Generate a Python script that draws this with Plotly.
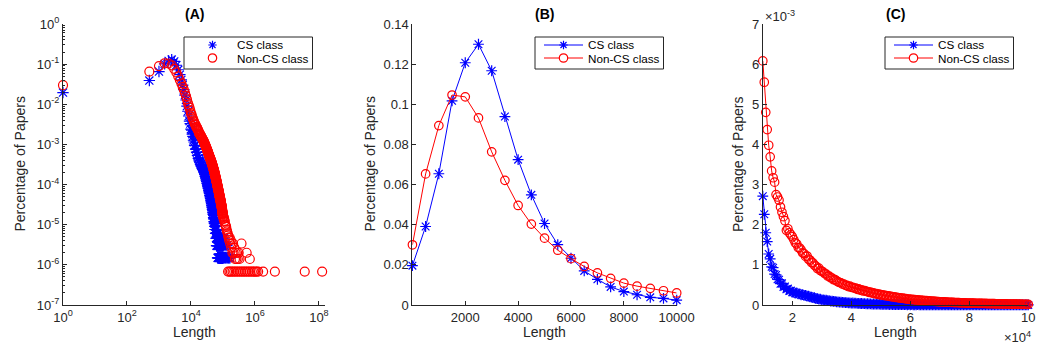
import plotly.graph_objects as go

W, H = 1042, 349

# ---- paper length bins (short range, panel B) ----
len_short = [1, 500, 1000, 1500, 2000, 2500, 3000, 3500, 4000, 4500, 5000,
             5500, 6000, 6500, 7000, 7500, 8000, 8500, 9000, 9500, 10000]
cs_short = [0.0196, 0.0391, 0.0654, 0.1017, 0.1207, 0.1299, 0.1167, 0.0939,
            0.0724, 0.0549, 0.0406, 0.0301, 0.0233, 0.0170, 0.0128, 0.0090,
            0.0067, 0.0051, 0.0038, 0.0033, 0.0024]
noncs_short = [0.0300, 0.0653, 0.0894, 0.1046, 0.1037, 0.0932, 0.0763, 0.0621,
               0.0496, 0.0403, 0.0333, 0.0273, 0.0231, 0.0192, 0.0160, 0.0133,
               0.0109, 0.0094, 0.0083, 0.0071, 0.0060]

# ---- mid range (panel C): 10k-100k, bins of 500 ----
len_mid = list(range(10000, 100001, 500))
cs_mid = [
    # 10000 - 20000
    2.71e-3, 2.26e-3, 1.80e-3, 1.58e-3, 1.27e-3, 1.15e-3, 0.95e-3, 0.93e-3, 0.77e-3, 0.75e-3,
    0.64e-3, 0.63e-3, 0.53e-3, 0.54e-3, 0.45e-3, 0.46e-3, 0.39e-3, 0.41e-3, 0.35e-3, 0.36e-3, 0.32e-3,
    # 20500 - 100000
    3.15e-4, 2.95e-4, 3.0e-4, 2.75e-4, 2.78e-4, 2.55e-4, 2.6e-4, 2.38e-4, 2.4e-4, 2.2e-4,
    2.22e-4, 2.0e-4, 1.98e-4, 1.82e-4, 1.8e-4, 1.62e-4, 1.6e-4, 1.46e-4, 1.44e-4, 1.3e-4,
    1.3e-4, 1.2e-4, 1.18e-4, 1.08e-4, 1.07e-4, 9.8e-5, 9.7e-5, 8.9e-5, 8.8e-5, 8.0e-5,
    8.0e-5, 7.3e-5, 7.3e-5, 6.6e-5, 6.6e-5, 6.0e-5, 6.0e-5, 5.4e-5, 5.5e-5, 4.9e-5,
    5.0e-5, 4.5e-5, 4.5e-5, 4.1e-5, 4.1e-5, 3.7e-5, 3.7e-5, 3.3e-5, 3.4e-5, 3.0e-5,
    3.1e-5, 2.7e-5, 2.8e-5, 2.4e-5, 2.5e-5, 2.2e-5, 2.3e-5, 2.0e-5, 2.0e-5, 1.8e-5,
    1.8e-5, 1.5e-5, 1.7e-5, 1.4e-5, 1.5e-5, 1.2e-5, 1.4e-5, 1.1e-5, 1.2e-5, 1.06e-5,
    1.2e-5, 9.1e-6, 1.06e-5, 7.6e-6, 9.1e-6, 7.6e-6, 9.1e-6, 6.1e-6, 7.6e-6, 6.1e-6,
    7.6e-6, 4.6e-6, 6.1e-6, 4.6e-6, 7.6e-6, 3.0e-6, 6.1e-6, 4.6e-6, 3.0e-6, 6.1e-6,
    4.6e-6, 3.0e-6, 4.6e-6, 3.0e-6, 6.1e-6, 1.5e-6, 4.6e-6, 3.0e-6, 4.6e-6, 1.5e-6,
    3.0e-6, 4.6e-6, 1.5e-6, 3.0e-6, 4.6e-6, 1.5e-6, 3.0e-6, 6.1e-6, 1.5e-6, 3.0e-6,
    1.5e-6, 3.0e-6, 4.6e-6, 1.5e-6, 3.0e-6, 1.5e-6, 4.6e-6, 1.5e-6, 3.0e-6, 1.5e-6,
    3.0e-6, 1.5e-6, 3.0e-6, 1.5e-6, 4.6e-6, 1.5e-6, 1.5e-6, 3.0e-6, 1.5e-6, 3.0e-6,
    1.5e-6, 1.5e-6, 3.0e-6, 1.5e-6, 1.5e-6, 4.6e-6, 1.5e-6, 3.0e-6, 1.5e-6, 1.5e-6,
    3.0e-6, 1.5e-6, 1.5e-6, 3.0e-6, 1.5e-6, 1.5e-6, 4.6e-6, 1.5e-6, 1.5e-6, 3.0e-6,
    1.5e-6, 1.5e-6, 3.0e-6, 1.5e-6, 1.5e-6, 3.0e-6, 1.5e-6, 1.5e-6, 1.5e-6, 3.0e-6,
]
noncs_mid = [
    # 10000 - 20000
    6.08e-3, 5.55e-3, 4.80e-3, 4.37e-3, 3.98e-3, 3.69e-3, 3.34e-3, 3.17e-3, 3.06e-3, 2.75e-3,
    2.69e-3, 2.61e-3, 2.44e-3, 2.31e-3, 2.20e-3, 2.10e-3, 1.86e-3, 1.90e-3, 1.80e-3, 1.75e-3, 1.70e-3,
    # 20500 - 100000
    1.63e-3, 1.55e-3, 1.52e-3, 1.43e-3, 1.42e-3, 1.37e-3, 1.30e-3, 1.28e-3, 1.21e-3, 1.22e-3,
    1.14e-3, 1.12e-3, 1.06e-3, 1.05e-3, 0.99e-3, 0.97e-3, 0.91e-3, 0.92e-3, 0.86e-3, 0.84e-3,
    0.82e-3, 0.78e-3, 0.77e-3, 0.72e-3, 0.72e-3, 0.68e-3, 0.67e-3, 0.63e-3, 0.63e-3, 0.60e-3,
    0.58e-3, 0.56e-3, 0.55e-3, 0.52e-3, 0.52e-3, 0.49e-3, 0.49e-3, 0.46e-3, 0.47e-3, 0.44e-3,
    0.44e-3, 0.42e-3, 0.42e-3, 0.39e-3, 0.40e-3, 0.37e-3, 0.38e-3, 0.35e-3, 0.36e-3, 0.34e-3,
    0.335e-3, 0.315e-3, 0.32e-3, 0.30e-3, 0.30e-3, 0.28e-3, 0.285e-3, 0.265e-3, 0.27e-3, 0.25e-3,
    0.255e-3, 0.24e-3, 0.24e-3, 0.225e-3, 0.23e-3, 0.215e-3, 0.215e-3, 0.20e-3, 0.205e-3, 0.19e-3,
    0.19e-3, 0.178e-3, 0.18e-3, 0.168e-3, 0.17e-3, 0.158e-3, 0.16e-3, 0.148e-3, 0.15e-3, 0.14e-3,
    0.142e-3, 0.132e-3, 0.135e-3, 0.125e-3, 0.127e-3, 0.118e-3, 0.12e-3, 0.112e-3, 0.113e-3, 0.105e-3,
    0.107e-3, 0.099e-3, 0.101e-3, 0.094e-3, 0.095e-3, 0.089e-3, 0.09e-3, 0.084e-3, 0.085e-3, 0.08e-3,
    0.081e-3, 0.076e-3, 0.077e-3, 0.072e-3, 0.073e-3, 0.068e-3, 0.069e-3, 0.064e-3, 0.066e-3, 0.061e-3,
    0.062e-3, 0.058e-3, 0.059e-3, 0.055e-3, 0.056e-3, 0.052e-3, 0.053e-3, 0.049e-3, 0.05e-3, 0.047e-3,
    0.048e-3, 0.045e-3, 0.046e-3, 0.043e-3, 0.044e-3, 0.041e-3, 0.042e-3, 0.039e-3, 0.04e-3, 0.037e-3,
    0.038e-3, 0.035e-3, 0.036e-3, 0.034e-3, 0.034e-3, 0.032e-3, 0.033e-3, 0.03e-3, 0.031e-3, 0.029e-3,
    0.03e-3, 0.028e-3, 0.028e-3, 0.026e-3, 0.027e-3, 0.025e-3, 0.025e-3, 0.023e-3, 0.024e-3, 0.022e-3,
    0.022e-3, 0.021e-3, 0.021e-3, 0.019e-3, 0.02e-3, 0.018e-3, 0.019e-3, 0.017e-3, 0.018e-3, 0.016e-3,
]

# ---- long tail beyond 100k (panel A only) ----
len_tail_cs = [102000, 105000, 108000, 112000, 116000, 121000, 127000, 133000,
               140000, 148000, 157000, 166000]
cs_tail = [3.0e-6, 1.5e-6, 4.6e-6, 1.5e-6, 3.0e-6, 1.5e-6, 1.5e-6, 3.0e-6,
           1.5e-6, 1.5e-6, 1.5e-6, 1.5e-6]

len_tail_noncs = [102000, 105000, 108000, 111000, 114000, 118000, 122000, 126000,
                  130000, 135000, 140000, 145000, 150000, 156000, 162000, 168000,
                  175000, 182000, 190000, 198000, 207000, 216000, 226000, 237000,
                  249000, 262000, 276000, 292000, 310000, 330000, 380000, 550000,
                  690000,
                  145000, 160000, 178000, 200000, 225000, 255000, 290000, 330000,
                  375000, 425000, 480000, 545000, 620000, 700000, 800000, 900000,
                  1000000, 1120000, 1260000,
                  1800000, 4200000, 36000000, 126000000]
noncs_tail = [1.6e-5, 1.4e-5, 1.5e-5, 1.2e-5, 1.25e-5, 1.0e-5, 9.5e-6, 8.8e-6,
              7.5e-6, 6.8e-6, 6.1e-6, 5.4e-6, 4.8e-6, 4.1e-6, 4.8e-6, 3.4e-6,
              4.1e-6, 2.7e-6, 3.4e-6, 2.0e-6, 3.4e-6, 2.0e-6, 2.7e-6, 1.4e-6,
              2.0e-6, 1.4e-6, 2.0e-6, 1.4e-6, 2.0e-6, 1.4e-6, 3.4e-6, 2.0e-6,
              1.4e-6,
              6.8e-7, 6.8e-7, 6.8e-7, 6.8e-7, 6.8e-7, 6.8e-7, 6.8e-7, 6.8e-7,
              6.8e-7, 6.8e-7, 6.8e-7, 6.8e-7, 6.8e-7, 6.8e-7, 6.8e-7, 6.8e-7,
              6.8e-7, 6.8e-7, 6.8e-7,
              6.8e-7, 6.8e-7, 6.8e-7, 6.8e-7]

series_names = ["CS class", "Non-CS class"]
BLUE, RED = "#0000FF", "#FF0000"
AX = "#262626"
FONT = "Liberation Sans, Arial, Helvetica, sans-serif"


def X(px):
    return px / W


def Y(py):
    return 1 - py / H


star = dict(symbol="asterisk-open", size=9, color=BLUE, line=dict(color=BLUE, width=1.2))
ring = dict(symbol="circle-open", size=8.5, color=RED, line=dict(color=RED, width=1.2))
star_a = dict(star, size=9.5)
ring_a = dict(ring, size=9)

fig = go.Figure()

# Panel A: full distribution on log-log axes
all_len_cs = len_short + len_mid[1:] + len_tail_cs
all_cs = cs_short + cs_mid[1:] + cs_tail
all_len_noncs = len_short + len_mid[1:] + len_tail_noncs
all_noncs = noncs_short + noncs_mid[1:] + noncs_tail
fig.add_trace(go.Scatter(x=all_len_cs, y=all_cs, mode="markers", marker=star_a,
                         name=series_names[0], xaxis="x", yaxis="y",
                         cliponaxis=False, showlegend=False))
fig.add_trace(go.Scatter(x=all_len_noncs, y=all_noncs, mode="markers", marker=ring_a,
                         name=series_names[1], xaxis="x", yaxis="y",
                         cliponaxis=False, showlegend=False))

# Panel B: up to 10k
fig.add_trace(go.Scatter(x=len_short, y=cs_short, mode="lines+markers", marker=star,
                         line=dict(color=BLUE, width=1), name=series_names[0],
                         xaxis="x2", yaxis="y2", cliponaxis=False, showlegend=False))
fig.add_trace(go.Scatter(x=len_short, y=noncs_short, mode="lines+markers", marker=ring,
                         line=dict(color=RED, width=1), name=series_names[1],
                         xaxis="x2", yaxis="y2", cliponaxis=False, showlegend=False))

# Panel C: 10k to 100k
fig.add_trace(go.Scatter(x=len_mid, y=cs_mid, mode="lines+markers", marker=star,
                         line=dict(color=BLUE, width=1), name=series_names[0],
                         xaxis="x3", yaxis="y3", cliponaxis=False, showlegend=False))
fig.add_trace(go.Scatter(x=len_mid, y=noncs_mid, mode="lines+markers", marker=ring,
                         line=dict(color=RED, width=1), name=series_names[1],
                         xaxis="x3", yaxis="y3", cliponaxis=False, showlegend=False))

common = dict(showline=True, linecolor=AX, linewidth=1, ticks="inside", ticklen=4,
              tickcolor=AX, tickwidth=1, showgrid=False, zeroline=False, mirror=False,
              automargin=False, tickfont=dict(family=FONT, size=13, color=AX))
ydom = [Y(305), Y(24)]

pow_tick = lambda e: "10<sup>%d</sup>" % e

fig.update_layout(
    template="none",
    width=W, height=H, margin=dict(l=0, r=0, t=0, b=0, pad=0),
    paper_bgcolor="white", plot_bgcolor="white", showlegend=False,
    xaxis=dict(common, type="log", domain=[X(63), X(325)], range=[0, 8.19],
               tickmode="array", tickvals=[1, 1e2, 1e4, 1e6, 1e8],
               ticktext=[pow_tick(e) for e in (0, 2, 4, 6, 8)], anchor="y"),
    yaxis=dict(common, type="log", domain=ydom, range=[-7, 0],
               tickmode="array", tickvals=[10.0 ** -e for e in range(8)],
               ticktext=[pow_tick(-e) for e in range(8)], anchor="x",
               minor=dict(ticks="inside", ticklen=2, tickcolor=AX, dtick="D1")),
    xaxis2=dict(common, domain=[X(412.4), X(676.7)], range=[0, 10000],
                tickmode="array", tickvals=[2000, 4000, 6000, 8000, 10000],
                ticktext=["2000", "4000", "6000", "8000", "10000"], anchor="y2"),
    yaxis2=dict(common, domain=ydom, range=[0, 0.14], tickmode="array",
                tickvals=[0, 0.02, 0.04, 0.06, 0.08, 0.1, 0.12, 0.14],
                ticktext=["0", "0.02", "0.04", "0.06", "0.08", "0.1", "0.12", "0.14"],
                anchor="x2"),
    xaxis3=dict(common, domain=[X(762.8), X(1028.3)], range=[10000, 100000],
                tickmode="array", tickvals=[20000, 40000, 60000, 80000, 100000],
                ticktext=["2", "4", "6", "8", "10"], anchor="y3"),
    yaxis3=dict(common, domain=ydom, range=[0, 0.007], tickmode="array",
                tickvals=[i * 1e-3 for i in range(8)],
                ticktext=[str(i) for i in range(8)], anchor="x3"),
)

ann = []
shapes = []
panels = [("(A)", 63, 325, 19, False, 184), ("(B)", 412.4, 676.7, 369, True, 535),
          ("(C)", 762.8, 1028.3, 737.5, True, 885)]
for title, x0, x1, ylab_x, with_line, bx0 in panels:
    cx = (x0 + x1) / 2
    ann.append(dict(text="<b>%s</b>" % title, x=X(cx), y=Y(14), xref="paper", yref="paper",
                    showarrow=False, xanchor="center", yanchor="middle",
                    font=dict(family=FONT, size=14, color="black")))
    ann.append(dict(text="Length", x=X(cx), y=Y(332), xref="paper", yref="paper",
                    showarrow=False, xanchor="center", yanchor="middle",
                    font=dict(family=FONT, size=14, color=AX)))
    ann.append(dict(text="Percentage of Papers", x=X(ylab_x), y=Y(164.5), xref="paper",
                    yref="paper", showarrow=False, textangle=-90, xanchor="center",
                    yanchor="middle", font=dict(family=FONT, size=14, color=AX)))

    # legend box
    bx1 = bx0 + 128.5
    shapes.append(dict(type="rect", xref="paper", yref="paper", x0=X(bx0), x1=X(bx1),
                       y0=Y(69), y1=Y(37), line=dict(color=AX, width=1),
                       fillcolor="white", layer="above"))
    mx = bx0 + 28.5
    rows = [(45, BLUE, series_names[0]), (58, RED, series_names[1])]
    for ry, col, label in rows:
        if with_line:
            shapes.append(dict(type="line", xref="paper", yref="paper",
                               x0=X(bx0 + 9), x1=X(bx0 + 48), y0=Y(ry), y1=Y(ry),
                               line=dict(color=col, width=1), layer="above"))
        r = 4.2
        if col == BLUE:
            d = r * 0.72
            path = ("M{a},{b} L{c},{b} M{e},{f} L{e},{g} "
                    "M{h},{i} L{j},{k} M{h},{k} L{j},{i}").format(
                a=X(mx - r), b=Y(ry), c=X(mx + r), e=X(mx), f=Y(ry - r), g=Y(ry + r),
                h=X(mx - d), i=Y(ry - d), j=X(mx + d), k=Y(ry + d))
            shapes.append(dict(type="path", xref="paper", yref="paper", path=path,
                               line=dict(color=BLUE, width=1.2), layer="above"))
        else:
            shapes.append(dict(type="circle", xref="paper", yref="paper",
                               x0=X(mx - r), x1=X(mx + r), y0=Y(ry + r), y1=Y(ry - r),
                               line=dict(color=RED, width=1.2), fillcolor="white",
                               layer="above"))
        ann.append(dict(text=label, x=X(bx0 + 51), y=Y(ry), xref="paper", yref="paper",
                        showarrow=False, xanchor="left", yanchor="middle",
                        font=dict(family=FONT, size=11.7, color="black")))

# exponent multipliers for panel C
ann.append(dict(text="\u00d710<sup>-3</sup>", x=X(763), y=Y(16), xref="paper", yref="paper",
                showarrow=False, xanchor="left", yanchor="middle",
                font=dict(family=FONT, size=13, color=AX)))
ann.append(dict(text="\u00d710<sup>4</sup>", x=X(1033), y=Y(337), xref="paper", yref="paper",
                showarrow=False, xanchor="right", yanchor="middle",
                font=dict(family=FONT, size=13, color=AX)))

fig.update_layout(annotations=ann, shapes=shapes)
fig.write_html("out.html")
